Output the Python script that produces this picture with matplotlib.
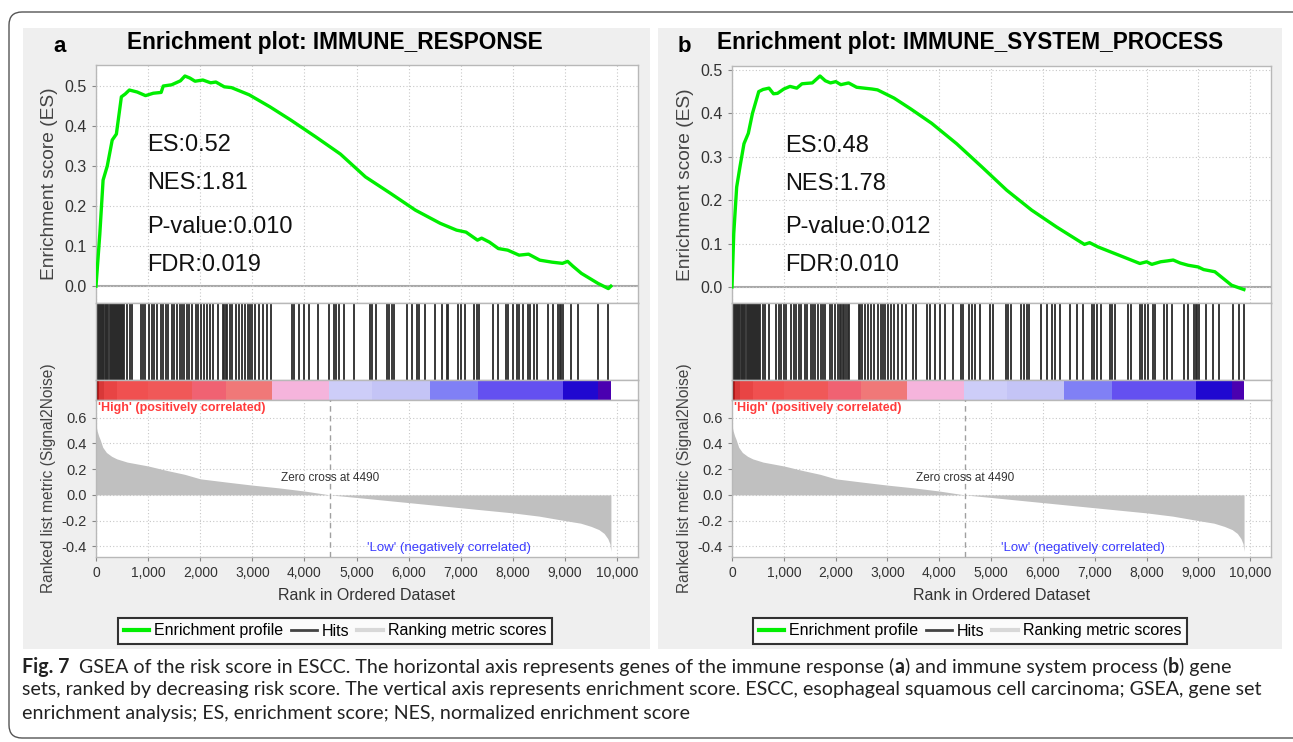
import matplotlib
matplotlib.use('Agg')
import matplotlib.pyplot as plt
from matplotlib.patches import FancyBboxPatch, Rectangle
from matplotlib.lines import Line2D
from matplotlib.ticker import FuncFormatter

W, H = 1293, 742
plt.rcParams['font.family'] = ['Liberation Sans', 'DejaVu Sans']

# ranked list (same dataset for both panels)
n_genes = 9880
zero_cross = 4490
metric_rank = [0, 20, 50, 80, 130, 200, 300, 400, 600, 800, 1000, 1360, 1700, 2000, 2500,
               3000, 3500, 4000, 4490, 5000, 5500, 6000, 6500, 7000, 7500, 8000, 8500,
               9000, 9300, 9500, 9650, 9750, 9820, 9860, 9880]
metric_val = [0.545, 0.50, 0.46, 0.43, 0.37, 0.33, 0.30, 0.28, 0.255, 0.24, 0.225, 0.19,
              0.16, 0.125, 0.10, 0.076, 0.055, 0.03, 0.0, -0.02, -0.04, -0.06, -0.08, -0.10,
              -0.12, -0.14, -0.165, -0.2, -0.22, -0.245, -0.27, -0.3, -0.34, -0.38, -0.44]

# colour strip under the hits
bar_edges = [0, 30, 60, 150, 400, 1000, 1850, 2490, 3380, 4480, 5300, 6410, 7330, 8960,
             9640, 9880]
bar_colors = ['#8a0808', '#b81818', '#d83838', '#e84444', '#f05050', '#f05858', '#f06272',
              '#f07878', '#f5b4dc', '#cdcdf8', '#c4c4f6', '#8080f5', '#6450f0', '#2008d0',
              '#4a00b0']

# panel a: IMMUNE_RESPONSE
es_a_rank = [0, 73, 136, 216, 311, 391, 487, 560, 640, 790, 950, 1100, 1250, 1290, 1450,
             1620, 1706, 1800, 1900, 2050, 2200, 2300, 2461, 2600, 2940, 3338, 3737, 4216,
             4690, 5170, 5650, 6128, 6605, 6918, 7100, 7320, 7400, 7550, 7720, 7900, 8118,
             8300, 8516, 8750, 8950, 9050, 9150, 9314, 9632, 9831, 9880]
es_a_val = [0.0, 0.13, 0.265, 0.30, 0.365, 0.38, 0.473, 0.48, 0.49, 0.485, 0.476, 0.482,
            0.484, 0.50, 0.503, 0.513, 0.525, 0.52, 0.512, 0.515, 0.508, 0.51, 0.498, 0.496,
            0.478, 0.448, 0.415, 0.373, 0.33, 0.273, 0.232, 0.19, 0.157, 0.14, 0.135, 0.115,
            0.12, 0.11, 0.094, 0.09, 0.0775, 0.08, 0.065, 0.06, 0.057, 0.062, 0.05, 0.032,
            0.007, -0.006, 0.0]
hits_a = [5, 20, 35, 50, 70, 90, 110, 125, 140, 160, 185, 200, 215, 235, 260, 280, 300, 320,
          345, 365, 385, 400, 420, 440, 460, 480, 500, 520, 535, 599, 644, 695, 855, 900, 938,
          1015, 1066, 1111, 1175, 1239, 1284, 1335, 1386, 1450, 1495, 1559, 1604, 1642, 1693,
          1738, 1783, 1834, 1911, 1962, 2014, 2071, 2135, 2180, 2244, 2346, 2440, 2465, 2490,
          2515, 2564, 2615, 2679, 2743, 2807, 2858, 2910, 2954, 2999, 3050, 3127, 3204, 3287,
          3351, 3754, 3805, 3895, 3997, 4087, 4253, 4471, 4560, 4612, 4663, 4765, 4957, 5259,
          5303, 5367, 5578, 5623, 5674, 5720, 5962, 6058, 6154, 6200, 6315, 6507, 6634, 6730,
          6762, 6954, 7006, 7083, 7261, 7306, 7357, 7613, 7709, 7870, 7914, 7997, 8081, 8125,
          8189, 8298, 8336, 8413, 8465, 8682, 8765, 8874, 8900, 8930, 8960, 9105, 9258, 9642,
          9821]
stats_a = ['ES:0.52', 'NES:1.81', 'P-value:0.010', 'FDR:0.019']

# panel b: IMMUNE_SYSTEM_PROCESS
es_b_rank = [0, 34, 90, 154, 231, 315, 395, 516, 600, 714, 800, 878, 1000, 1119, 1250, 1350,
             1441, 1550, 1698, 1800, 1900, 2002, 2100, 2250, 2405, 2550, 2700, 2807, 3128,
             3450, 3852, 4334, 4817, 5299, 5781, 6264, 6665, 6800, 6900, 7066, 7469, 7870,
             8000, 8100, 8272, 8400, 8513, 8650, 8800, 8995, 9100, 9317, 9639, 9877]
es_b_val = [0.0, 0.123, 0.23, 0.277, 0.33, 0.354, 0.40, 0.45, 0.455, 0.458, 0.445, 0.446,
            0.456, 0.462, 0.458, 0.468, 0.469, 0.47, 0.486, 0.475, 0.47, 0.473, 0.466, 0.47,
            0.46, 0.458, 0.456, 0.454, 0.435, 0.41, 0.377, 0.33, 0.277, 0.223, 0.177, 0.138,
            0.108, 0.098, 0.102, 0.092, 0.073, 0.054, 0.058, 0.052, 0.058, 0.06, 0.062, 0.055,
            0.05, 0.046, 0.04, 0.035, 0.004, -0.006]
hits_b = [5, 20, 35, 50, 70, 90, 110, 125, 140, 160, 185, 200, 215, 235, 260, 280, 300, 320,
          345, 365, 385, 400, 420, 440, 460, 480, 500, 520, 534, 598, 643, 708, 855, 901, 951,
          1003, 1048, 1144, 1196, 1241, 1287, 1337, 1402, 1453, 1518, 1563, 1607, 1659, 1711,
          1755, 1800, 1885, 1929, 1981, 2045, 2075, 2105, 2135, 2165, 2195, 2235, 2265, 2444,
          2475, 2510, 2571, 2623, 2675, 2739, 2816, 2868, 2912, 2957, 3009, 3061, 3125, 3202,
          3279, 3362, 3497, 3543, 3767, 3819, 3910, 4012, 4103, 4269, 4411, 4462, 4578, 4630,
          4682, 4784, 4977, 5041, 5280, 5324, 5376, 5581, 5633, 5684, 5735, 5966, 6071, 6179,
          6225, 6327, 6520, 6661, 6765, 6939, 6983, 7035, 7112, 7292, 7336, 7388, 7645, 7690,
          7870, 7915, 7967, 8031, 8115, 8160, 8339, 8385, 8482, 8719, 8802, 8912, 8945, 8980,
          9014, 9144, 9285, 9400, 9671, 9786, 9877]
stats_b = ['ES:0.48', 'NES:1.78', 'P-value:0.012', 'FDR:0.010']

x_ticks = list(range(0, 10001, 1000))
es_ticks = [0.0, 0.1, 0.2, 0.3, 0.4, 0.5]
metric_ticks = [-0.4, -0.2, 0.0, 0.2, 0.4, 0.6]


def px_box(l, t, r, b):
    return [l / W, 1 - b / H, (r - l) / W, (b - t) / H]


fig = plt.figure(figsize=(W / 100, H / 100), dpi=100)

# outer rounded frame and grey panel backgrounds (behind the axes)
frame = FancyBboxPatch((9 / 100, 4 / 100), 1300 / 100, 726 / 100,
                       boxstyle='round,pad=0,rounding_size=0.13',
                       transform=fig.dpi_scale_trans, facecolor='white',
                       edgecolor='#555555', linewidth=1.0, zorder=-3)
fig.patches.append(frame)
for l, r in [(23, 650), (658, 1282)]:
    fig.patches.append(Rectangle((l / W, 1 - 649 / H), (r - l) / W, (649 - 28) / H,
                                 transform=fig.transFigure, facecolor='#efefef',
                                 edgecolor='none', zorder=-2))

grid_kw = dict(color='#c8c8c8', linestyle=(0, (1, 2)), linewidth=0.8)
spine_c = '#b8b8b8'


def style(ax):
    for s in ax.spines.values():
        s.set_color(spine_c)
        s.set_linewidth(1.0)
    ax.set_xlim(0, 10400)
    ax.tick_params(colors='#888888', labelcolor='#333333', length=3)


def draw_panel(left, right, es_top, es_lim, letter, title, es_rank, es_val, hits, stats,
               title_x, letter_x, stats_x):
    ax_es = fig.add_axes(px_box(left, es_top, right, 303))
    ax_hit = fig.add_axes(px_box(left, 303, right, 380))
    ax_bar = fig.add_axes(px_box(left, 380, right, 400))
    ax_m = fig.add_axes(px_box(left, 400, right, 557))

    # enrichment score
    style(ax_es)
    ax_es.set_ylim(*es_lim)
    ax_es.set_xticks(x_ticks)
    ax_es.set_yticks(es_ticks)
    ax_es.set_yticklabels(['%.1f' % v for v in es_ticks], fontsize=11.5)
    ax_es.tick_params(axis='x', labelbottom=False, length=0)
    ax_es.grid(True, **grid_kw)
    ax_es.axhline(0, color='#a8a8a8', lw=1.5, zorder=1)
    ax_es.plot(es_rank, es_val, color='#00ee00', lw=2.4, zorder=3)
    for i, s in enumerate(stats):
        ax_es.text(stats_x, [0.664, 0.504, 0.319, 0.160][i], s, transform=ax_es.transAxes,
                   fontsize=17, va='center', ha='left', color='#111111')
    ax_es.set_ylabel('Enrichment score (ES)', fontsize=13.8, color='#444444', labelpad=5)

    # hits
    style(ax_hit)
    ax_hit.set_ylim(0, 1)
    ax_hit.vlines(hits, 0, 1, color='#2a2a2a', lw=1.3)
    ax_hit.set_xticks([])
    ax_hit.set_yticks([])

    # colour strip
    style(ax_bar)
    ax_bar.set_ylim(0, 1)
    widths = [bar_edges[i + 1] - bar_edges[i] for i in range(len(bar_colors))]
    ax_bar.bar(bar_edges[:-1], [1] * len(widths), width=widths, align='edge',
               color=bar_colors, edgecolor='none')
    ax_bar.set_xticks([])
    ax_bar.set_yticks([])

    # ranked list metric
    style(ax_m)
    ax_m.set_ylim(-0.483, 0.738)
    ax_m.set_xticks(x_ticks)
    ax_m.xaxis.set_major_formatter(FuncFormatter(lambda v, p: '{:,}'.format(int(v))))
    ax_m.set_yticks(metric_ticks)
    ax_m.set_yticklabels(['%.1f' % v for v in metric_ticks], fontsize=10.5)
    ax_m.tick_params(axis='x', labelsize=10)
    ax_m.grid(True, **grid_kw)
    ax_m.fill_between(metric_rank, metric_val, 0, color='#c0c0c0', lw=0, zorder=2)
    ax_m.axvline(zero_cross, color='#a0a0a0', lw=1, linestyle=(0, (4, 3)), zorder=3)
    ax_m.text(40, 0.676, "'High' (positively correlated)", color='#ff3c3c', fontsize=9,
              fontweight='bold', va='center', ha='left')
    ax_m.text(zero_cross, 0.13, 'Zero cross at 4490', color='#333333', fontsize=8.5,
              va='center', ha='center')
    ax_m.text(6780, -0.41, "'Low' (negatively correlated)", color='#3c3cff', fontsize=9.5,
              va='center', ha='center')
    ax_m.set_xlabel('Rank in Ordered Dataset', fontsize=11.5, color='#333333', labelpad=6)
    fig.text((left - 47) / W, 1 - 478 / H, 'Ranked list metric (Signal2Noise)', rotation=90,
             fontsize=11.2, color='#444444', ha='center', va='center')

    handles = [Line2D([], [], color='#00ee00', lw=3),
               Line2D([], [], color='#444444', lw=2),
               Line2D([], [], color='#d8d8d8', lw=3)]
    leg = ax_m.legend(handles, ['Enrichment profile', 'Hits', 'Ranking metric scores'],
                      ncol=3, loc='center', bbox_to_anchor=(title_x / W, 1 - 631 / H),
                      bbox_transform=fig.transFigure, fontsize=11.5, frameon=True,
                      fancybox=False, handlelength=1.6, handletextpad=0.3,
                      columnspacing=0.5, borderpad=0.35)
    leg.get_frame().set_edgecolor('black')
    leg.get_frame().set_linewidth(1.5)

    fig.text(title_x / W, 1 - 43 / H, title, fontsize=16.3, fontweight='bold',
             ha='center', va='center')
    fig.text(letter_x / W, 1 - 47 / H, letter, fontsize=16, fontweight='bold',
             ha='center', va='center')


draw_panel(96, 638, 65, (-0.042, 0.5525), 'a', 'Enrichment plot: IMMUNE_RESPONSE',
           es_a_rank, es_a_val, hits_a, stats_a, 335, 60, 0.094)
draw_panel(732, 1271, 66, (-0.037, 0.509), 'b', 'Enrichment plot: IMMUNE_SYSTEM_PROCESS',
           es_b_rank, es_b_val, hits_b, stats_b, 970, 684, 0.098)

# caption
cap_font = ['Lato', 'DejaVu Sans']
cap_size = 14.15
line1 = [('Fig. 7', 'bold'), ('  GSEA of the risk score in ESCC. The horizontal axis represents '
                              'genes of the immune response (', 'normal'),
         ('a', 'bold'), (') and immune system process (', 'normal'), ('b', 'bold'),
         (') gene', 'normal')]
renderer = fig.canvas.get_renderer()
x = 22
for txt, wt in line1:
    t = fig.text(x / W, 1 - 667 / H, txt, fontsize=cap_size, fontweight=wt, family=cap_font,
                 va='center', ha='left', color='#222222')
    x += t.get_window_extent(renderer).width
fig.text(22 / W, 1 - 690 / H, 'sets, ranked by decreasing risk score. The vertical axis '
         'represents enrichment score. ESCC, esophageal squamous cell carcinoma; GSEA, gene set',
         fontsize=cap_size, family=cap_font, va='center', ha='left', color='#222222')
fig.text(22 / W, 1 - 713 / H, 'enrichment analysis; ES, enrichment score; NES, normalized '
         'enrichment score', fontsize=cap_size, family=cap_font, va='center', ha='left',
         color='#222222')

fig.savefig('out.png', dpi=100)
